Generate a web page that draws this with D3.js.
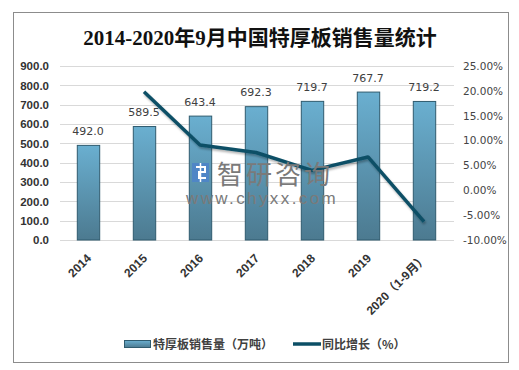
<!DOCTYPE html>
<html>
<head>
<meta charset="utf-8">
<script src="https://cdn.jsdelivr.net/npm/d3@7"></script>
<style>
  body { margin: 0; background: #fff; }
  svg { display: block; }
</style>
</head>
<body>
<svg id="chart"></svg>
<script>
// data
const categories = ['2014', '2015', '2016', '2017', '2018', '2019', '2020（1-9月）'];
const sales = [492.0, 589.5, 643.4, 692.3, 719.7, 767.7, 719.2];
const growth = [null, 19.8, 9.1, 7.6, 4.0, 6.7, -6.3];
const leftTicks = [0, 100, 200, 300, 400, 500, 600, 700, 800, 900];
const rightTicks = [-10, -5, 0, 5, 10, 15, 20, 25];

const W = 519, H = 370;
const margin = { top: 66, right: 67, bottom: 130, left: 60 };
const width = W - margin.left - margin.right;
const height = H - margin.top - margin.bottom;

const svg = d3.select('#chart')
  .attr('width', W)
  .attr('height', H);

// frame
svg.append('rect')
  .attr('x', 13.5).attr('y', 12.5)
  .attr('width', 495).attr('height', 350)
  .attr('fill', '#fff')
  .attr('stroke', '#8c8c8c')
  .attr('stroke-width', 1);

svg.append('text')
  .attr('x', 260)
  .attr('y', 45)
  .attr('text-anchor', 'middle')
  .attr('font-family', '"Liberation Serif", "Noto Sans CJK SC", serif')
  .attr('font-size', 21)
  .attr('font-weight', 'bold')
  .attr('fill', '#111')
  .text('2014-2020年9月中国特厚板销售量统计');

const defs = svg.append('defs');
const grad = defs.append('linearGradient')
  .attr('id', 'barGrad')
  .attr('x1', 0).attr('y1', 0).attr('x2', 0).attr('y2', 1);
grad.append('stop').attr('offset', '0%').attr('stop-color', '#6aafd0');
grad.append('stop').attr('offset', '100%').attr('stop-color', '#4c7a90');

const shadow = defs.append('filter').attr('id', 'lineShadow')
  .attr('x', '-10%').attr('y', '-10%').attr('width', '120%').attr('height', '130%');
shadow.append('feDropShadow')
  .attr('dx', 1).attr('dy', 2).attr('stdDeviation', 1.2)
  .attr('flood-color', '#000').attr('flood-opacity', 0.3);

const g = svg.append('g')
  .attr('transform', `translate(${margin.left}, ${margin.top})`);

const x = d3.scaleBand()
  .domain(categories)
  .range([0, width])
  .paddingInner(0.6)
  .paddingOuter(0.3);

const y = d3.scaleLinear()
  .domain([0, 900])
  .range([height, 0]);

const y2 = d3.scaleLinear()
  .domain([-10, 25])
  .range([height, 0]);

// grid
g.append('g')
  .selectAll('line')
  .data(leftTicks)
  .enter()
  .append('line')
  .attr('x1', 0)
  .attr('x2', width + 2)
  .attr('y1', d => Math.round(y(d)) + 0.5)
  .attr('y2', d => Math.round(y(d)) + 0.5)
  .attr('stroke', '#d9d9d9');

// left axis
const leftAxis = g.append('g')
  .call(d3.axisLeft(y).tickValues(leftTicks).tickFormat(d3.format('.1f')).tickSize(0).tickPadding(11));
leftAxis.select('.domain').remove();
leftAxis.selectAll('text')
  .attr('font-family', '"Liberation Sans", Arial, sans-serif')
  .attr('font-size', 11.5)
  .attr('font-weight', 'bold')
  .attr('fill', '#333');

// right axis
const rightAxis = g.append('g')
  .attr('transform', `translate(${width}, 0)`)
  .call(d3.axisRight(y2).tickValues(rightTicks).tickFormat(d => d.toFixed(2) + '%').tickSize(0).tickPadding(11));
rightAxis.select('.domain').remove();
rightAxis.selectAll('text')
  .attr('font-family', '"DejaVu Sans", sans-serif')
  .attr('font-size', 10.5)
  .attr('fill', '#444');

// bars
g.append('g')
  .selectAll('rect')
  .data(sales)
  .enter()
  .append('rect')
  .attr('x', (d, i) => x(categories[i]) + 0.5)
  .attr('y', d => y(d) + 0.5)
  .attr('width', x.bandwidth())
  .attr('height', d => height - y(d) - 0.5)
  .attr('fill', 'url(#barGrad)')
  .attr('stroke', '#2f5b6e')
  .attr('stroke-width', 1);

// bar labels
g.append('g')
  .selectAll('text')
  .data(sales)
  .enter()
  .append('text')
  .attr('x', (d, i) => x(categories[i]) + x.bandwidth() / 2)
  .attr('y', d => y(d) - 10)
  .attr('text-anchor', 'middle')
  .attr('font-family', '"DejaVu Sans", sans-serif')
  .attr('font-size', 11)
  .attr('fill', '#404040')
  .text(d => d.toFixed(1));

// x labels
g.append('g')
  .selectAll('text')
  .data(categories)
  .enter()
  .append('text')
  .attr('transform', d => `translate(${x(d) + x.bandwidth() / 2 + 4}, ${height + 19}) rotate(-45)`)
  .attr('text-anchor', 'end')
  .attr('font-family', '"Liberation Sans", "Noto Sans CJK SC", sans-serif')
  .attr('font-size', 12)
  .attr('font-weight', 'bold')
  .attr('fill', '#333')
  .text(d => d);

// growth line
const line = d3.line()
  .defined(d => d !== null)
  .x((d, i) => x(categories[i]) + x.bandwidth() / 2)
  .y(d => y2(d));

g.append('path')
  .datum(growth)
  .attr('d', line)
  .attr('fill', 'none')
  .attr('stroke', '#0c4f66')
  .attr('stroke-width', 3.5)
  .attr('stroke-linejoin', 'round')
  .attr('filter', 'url(#lineShadow)');

// watermark
const wm = svg.append('g');
wm.append('rect').attr('x', 192).attr('y', 163).attr('width', 17).attr('height', 19).attr('fill', '#4f86c6');
wm.append('path')
  .attr('d', 'M196,167 H205 V172 H199 V178 H206')
  .attr('fill', 'none')
  .attr('stroke', '#fff')
  .attr('stroke-width', 2);
wm.append('line').attr('x1', 200.5).attr('x2', 200.5).attr('y1', 163).attr('y2', 182)
  .attr('stroke', '#fff').attr('stroke-width', 1.5);
wm.append('text')
  .attr('x', 217).attr('y', 184)
  .attr('font-family', '"Noto Sans CJK SC", sans-serif')
  .attr('font-size', 26)
  .attr('fill', '#7a7a7a')
  .attr('letter-spacing', 3)
  .text('智研咨询');
wm.append('text')
  .attr('x', 186).attr('y', 204)
  .attr('font-family', '"Liberation Sans", Arial, sans-serif')
  .attr('font-size', 17)
  .attr('fill', '#7a7a7a')
  .attr('letter-spacing', 2.4)
  .text('www.chyxx.com');

// legend
const legend = svg.append('g')
  .attr('font-family', '"Noto Sans CJK SC", sans-serif')
  .attr('font-size', 12)
  .attr('font-weight', 'bold')
  .attr('fill', '#404040');

legend.append('rect')
  .attr('x', 124.5).attr('y', 340.5)
  .attr('width', 26).attr('height', 7)
  .attr('fill', 'url(#barGrad)')
  .attr('stroke', '#2f5b6e');
legend.append('text')
  .attr('x', 153).attr('y', 349)
  .text('特厚板销售量（万吨）');

legend.append('line')
  .attr('x1', 293).attr('x2', 321)
  .attr('y1', 344).attr('y2', 344)
  .attr('stroke', '#0c4f66')
  .attr('stroke-width', 3.5);
legend.append('text')
  .attr('x', 322).attr('y', 349)
  .text('同比增长（%）');
</script>
</body>
</html>
